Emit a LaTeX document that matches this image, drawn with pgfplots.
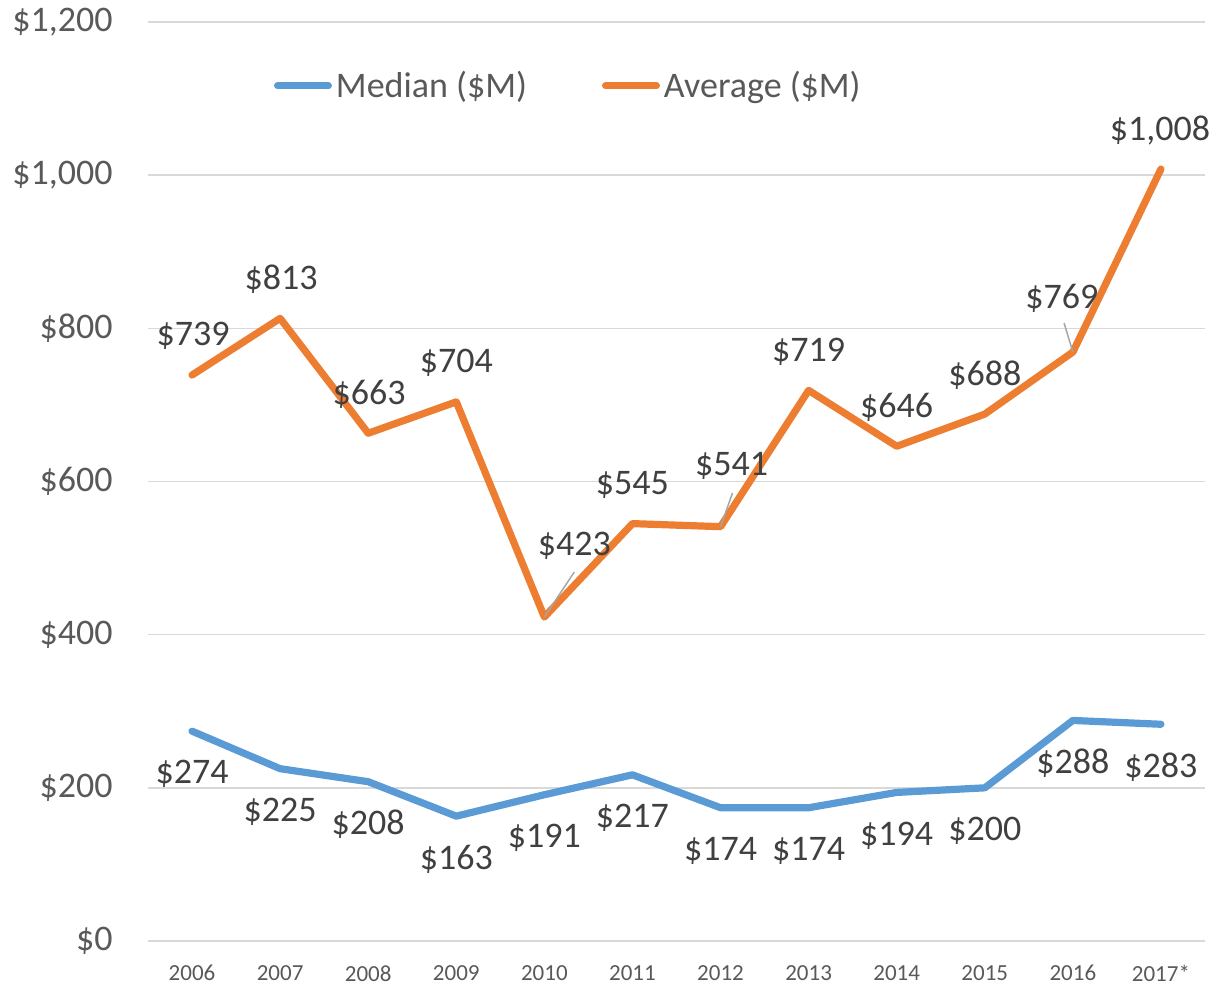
\documentclass[border=0pt]{standalone}
\usepackage{fontspec}
\setmainfont{Carlito}
\usepackage{pgfplots}
\usepackage{pgfplotstable}
\pgfplotsset{compat=1.18}
\definecolor{cblue}{HTML}{5B9BD5}
\definecolor{corange}{HTML}{ED7D31}
\definecolor{ticktxt}{HTML}{595959}
\definecolor{lbltxt}{HTML}{404040}
\definecolor{gridc}{HTML}{D9D9D9}
\definecolor{leader}{HTML}{A6A6A6}

\pgfplotstableread{
x y dx dy
0 274 0 -21.5
1 225 0 -21.5
2 208 0 -21.5
3 163 0 -21.5
4 191 0 -21.5
5 217 0 -21.5
6 174 0 -21.5
7 174 0 -21.5
8 194 0 -21.5
9 200 0 -21.5
10 288 0 -21.5
11 283 0 -21.5
}\med

\pgfplotstableread{
x y dx dy
0 739 0.5 19.5
1 813 0.5 19.5
2 663 0.5 19.5
3 704 0 19.5
4 423 15 35.5
5 545 0 19.5
6 541 5.5 30.5
7 719 0 19.5
8 646 0 19.5
9 688 0 19.5
10 769 -5.5 27
11 1008 -0.5 19.5
}\avg

\pgfplotsset{/pgf/number format/.cd, fixed, precision=0, 1000 sep={,}, assume math mode=true}

\begin{document}
\begin{tikzpicture}
\path[use as bounding box] (0pt,0pt) rectangle (608.5pt,493pt);
\begin{axis}[
  at={(74pt,22.5pt)}, anchor=south west,
  scale only axis, width=528.5pt, height=459.5pt,
  xmin=-0.5, xmax=11.5, ymin=0, ymax=1200,
  axis line style={draw=none},
  major tick length=0pt,
  xtick={0,...,11},
  xticklabels={2006,2007,2008,2009,2010,2011,2012,2013,2014,2015,2016,2017*},
  ytick={0,200,...,1200},
  yticklabel={\$\pgfmathprintnumber{\tick}},
  ymajorgrids,
  grid style={color=gridc, line width=0.75pt},
  xticklabel style={font=\fontsize{11.5}{14}\selectfont, text=ticktxt, inner sep=0pt, anchor=north, yshift=-12pt},
  yticklabel style={font=\fontsize{18}{21.6}\selectfont, text=ticktxt, inner sep=0pt, anchor=east, xshift=-17.5pt},
  legend columns=2,
  legend style={draw=none, fill=none, inner sep=0pt, at={(0.1188,0.9304)}, anchor=west,
    font=\fontsize{18}{21.6}\selectfont, text=ticktxt,
    nodes={inner sep=0pt},
    /tikz/every odd column/.append style={column sep=2pt},
    /tikz/every even column/.append style={column sep=37.5pt}},
  legend image code/.code={\draw[#1, line width=3.5pt, line cap=round] (0pt,0pt) -- (25.5pt,0pt);},
]
\addplot[cblue, line width=3.6pt, line join=round, line cap=round,
  nodes near coords={\$\pgfmathprintnumber{\pgfplotspointmeta}},
  visualization depends on={\thisrow{dx} \as \dx},
  visualization depends on={\thisrow{dy} \as \dy},
  every node near coord/.append style={font=\fontsize{18}{21.6}\selectfont, text=lbltxt, anchor=center, inner sep=0pt, xshift=\dx pt, yshift=\dy pt}]
  table[x=x,y=y] {\med};
\addlegendentry{Median (\$M)}
\addplot[corange, line width=3.6pt, line join=round, line cap=round,
  nodes near coords={\$\pgfmathprintnumber{\pgfplotspointmeta}},
  visualization depends on={\thisrow{dx} \as \dx},
  visualization depends on={\thisrow{dy} \as \dy},
  every node near coord/.append style={font=\fontsize{18}{21.6}\selectfont, text=lbltxt, anchor=center, inner sep=0pt, xshift=\dx pt, yshift=\dy pt}]
  table[x=x,y=y] {\avg};
\addlegendentry{Average (\$M)}
\addplot[leader, line width=0.75pt, forget plot] coordinates {(4,423) (4.34,481.8)};
\addplot[leader, line width=0.75pt, forget plot] coordinates {(6,541) (6.136,585)};
\addplot[leader, line width=0.75pt, forget plot] coordinates {(10,769) (9.90,807)};
\end{axis}
\end{tikzpicture}
\end{document}
